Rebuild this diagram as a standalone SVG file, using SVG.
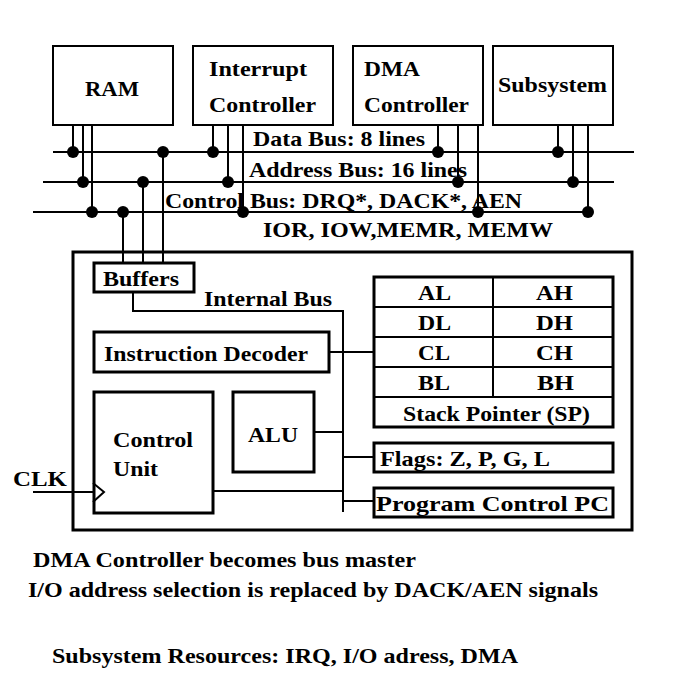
<svg xmlns="http://www.w3.org/2000/svg" width="682" height="683" viewBox="0 0 682 683">
<style>
.t{font-family:"Liberation Serif","Times New Roman",serif;font-weight:bold;font-size:21px;fill:#000}
.b{font-size:21px}
.box{fill:#fff;stroke:#000;stroke-width:2}
.tk{fill:#fff;stroke:#000;stroke-width:3}
.ln{fill:none;stroke:#000;stroke-width:2}
.dot{fill:#000}
</style>
<rect width="682" height="683" fill="#fff"/>
<g id="cpu">
<rect x="73" y="252" width="559" height="278" fill="none" stroke="#000" stroke-width="3"/>
</g>
<g id="connectors">
<path class="ln" d="M53 152H634M43 182H614M33 212H589"/>
<path class="ln" d="M73 125V152M83 125V182M92 125V212M213 125V152M228 125V182M243 125V212M438 125V152M458 125V182M478 125V212M558 125V152M573 125V182M588 125V212"/>
<path class="ln" d="M163 152V262M143 182V262M123 212V262"/>
<path class="ln" d="M133 292V311H343V512M329 352H373M314 432H343M343 457H373M213 491H343M343 501H373M33 492H93"/>
<g class="dot">
<circle cx="73" cy="152" r="6"/><circle cx="83" cy="182" r="6"/><circle cx="92" cy="212" r="6"/>
<circle cx="163" cy="152" r="6"/><circle cx="143" cy="182" r="6"/><circle cx="123" cy="212" r="6"/>
<circle cx="213" cy="152" r="6"/><circle cx="228" cy="182" r="6"/><circle cx="243" cy="212" r="6"/>
<circle cx="438" cy="152" r="6"/><circle cx="458" cy="182" r="6"/><circle cx="478" cy="212" r="6"/>
<circle cx="558" cy="152" r="6"/><circle cx="573" cy="182" r="6"/><circle cx="588" cy="212" r="6"/>
</g>
</g>
<g id="bus-labels">
<text class="t" x="253" y="146" textLength="172" lengthAdjust="spacingAndGlyphs">Data Bus: 8 lines</text>
<text class="t" x="249" y="177" textLength="218" lengthAdjust="spacingAndGlyphs">Address Bus: 16 lines</text>
<text class="t" x="165" y="208" textLength="357" lengthAdjust="spacingAndGlyphs">Control Bus: DRQ*, DACK*, AEN</text>
<text class="t" x="263" y="237" textLength="290" lengthAdjust="spacingAndGlyphs">IOR, IOW,MEMR, MEMW</text>
<text class="t" x="204" y="306" textLength="128" lengthAdjust="spacingAndGlyphs">Internal Bus</text>
</g>
<g id="ram">
<rect class="box" x="53" y="46" width="120" height="79"/>
<text class="t" x="85" y="96" textLength="54" lengthAdjust="spacingAndGlyphs">RAM</text>
</g>
<g id="interrupt-controller">
<rect class="box" x="193" y="46" width="140" height="79"/>
<text class="t" x="209" y="76" textLength="98" lengthAdjust="spacingAndGlyphs">Interrupt</text>
<text class="t" x="209" y="112" textLength="107" lengthAdjust="spacingAndGlyphs">Controller</text>
</g>
<g id="dma-controller">
<rect class="box" x="353" y="46" width="130" height="79"/>
<text class="t" x="364" y="76" textLength="56" lengthAdjust="spacingAndGlyphs">DMA</text>
<text class="t" x="364" y="112" textLength="105" lengthAdjust="spacingAndGlyphs">Controller</text>
</g>
<g id="subsystem">
<rect class="box" x="493" y="46" width="120" height="79"/>
<text class="t" x="498" y="92" textLength="109" lengthAdjust="spacingAndGlyphs">Subsystem</text>
</g>
<g id="buffers">
<rect class="tk" x="94" y="263" width="100" height="29"/>
<text class="t" x="103" y="286" textLength="76" lengthAdjust="spacingAndGlyphs">Buffers</text>
</g>
<g id="instruction-decoder">
<rect class="tk" x="94" y="332" width="235" height="40"/>
<text class="t" x="104" y="361" textLength="204" lengthAdjust="spacingAndGlyphs">Instruction Decoder</text>
</g>
<g id="control-unit">
<rect class="tk" x="94" y="392" width="119" height="121"/>
<path d="M93 483L104 492L93 502" fill="none" stroke="#000" stroke-width="2"/>
<text class="t" x="113" y="447" textLength="80" lengthAdjust="spacingAndGlyphs">Control</text>
<text class="t" x="113" y="476" textLength="45" lengthAdjust="spacingAndGlyphs">Unit</text>
</g>
<g id="clk">
<text class="t" x="13" y="486" textLength="54" lengthAdjust="spacingAndGlyphs">CLK</text>
</g>
<g id="alu">
<rect class="tk" x="233" y="392" width="81" height="80"/>
<text class="t" x="248" y="442" textLength="50" lengthAdjust="spacingAndGlyphs">ALU</text>
</g>
<g id="registers">
<rect class="tk" x="374" y="277" width="239" height="150"/>
<path class="ln" d="M374 307H613M374 337H613M374 367H613M374 397H613M493 277V397"/>
<text class="t" x="418" y="300" textLength="33" lengthAdjust="spacingAndGlyphs">AL</text>
<text class="t" x="536" y="300" textLength="37" lengthAdjust="spacingAndGlyphs">AH</text>
<text class="t" x="418" y="330" textLength="33" lengthAdjust="spacingAndGlyphs">DL</text>
<text class="t" x="536" y="330" textLength="37" lengthAdjust="spacingAndGlyphs">DH</text>
<text class="t" x="418" y="360" textLength="32" lengthAdjust="spacingAndGlyphs">CL</text>
<text class="t" x="536" y="360" textLength="37" lengthAdjust="spacingAndGlyphs">CH</text>
<text class="t" x="418" y="390" textLength="32" lengthAdjust="spacingAndGlyphs">BL</text>
<text class="t" x="537" y="390" textLength="37" lengthAdjust="spacingAndGlyphs">BH</text>
<text class="t" x="403" y="421" textLength="187" lengthAdjust="spacingAndGlyphs">Stack Pointer (SP)</text>
</g>
<g id="flags">
<rect class="tk" x="374" y="443" width="239" height="29"/>
<text class="t" x="380" y="466" textLength="170" lengthAdjust="spacingAndGlyphs">Flags: Z, P, G, L</text>
</g>
<g id="program-control">
<rect class="tk" x="374" y="488" width="239" height="29"/>
<text class="t" x="376" y="511" textLength="233" lengthAdjust="spacingAndGlyphs">Program Control PC</text>
</g>
<g id="notes">
<text class="t b" x="33" y="567" textLength="383" lengthAdjust="spacingAndGlyphs">DMA Controller becomes bus master</text>
<text class="t b" x="28" y="597" textLength="570" lengthAdjust="spacingAndGlyphs">I/O address selection is replaced by DACK/AEN signals</text>
<text class="t b" x="52" y="663" textLength="466" lengthAdjust="spacingAndGlyphs">Subsystem Resources: IRQ, I/O adress, DMA</text>
</g>
</svg>
